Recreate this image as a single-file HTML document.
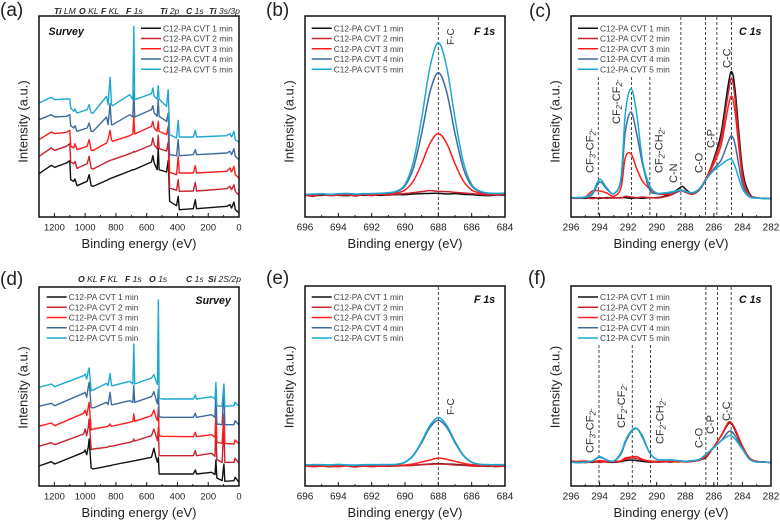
<!DOCTYPE html>
<html lang="en">
<head>
<meta charset="utf-8">
<title>XPS spectra panels</title>
<style>
html,body{margin:0;padding:0;background:#fff;}
body{width:780px;height:522px;overflow:hidden;}
svg{display:block;filter:blur(0.35px);font-family:"Liberation Sans",Arial,sans-serif;}
.plbl{font-size:19px;fill:#222;}
.ytitle,.xtitle{font-size:13px;fill:#222;}
.peak{font-size:8.6px;fill:#222;font-style:italic;}
.core{font-size:10.6px;font-weight:bold;font-style:italic;fill:#111;}
.ann{font-size:11px;fill:#333;}
.annf{font-size:10px;fill:#333;}
.sub{font-size:8px;font-style:italic;}
</style>
</head>
<body>
<svg id="chart" xmlns="http://www.w3.org/2000/svg" width="780" height="522" viewBox="0 0 780 522">
  <rect x="0" y="0" width="780" height="522" fill="#fff"/>
  <g id="marks"></g>

  <text class="plbl" x="0" y="16">(a)</text>
  <text class="plbl" x="266" y="16">(b)</text>
  <text class="plbl" x="529" y="17">(c)</text>
  <text class="plbl" x="0" y="285">(d)</text>
  <text class="plbl" x="266" y="284">(e)</text>
  <text class="plbl" x="528" y="284">(f)</text>

  <g>
    <text class="peak" x="54" y="14"><tspan font-weight="bold">Ti</tspan> LM</text>
    <text class="peak" x="79" y="14"><tspan font-weight="bold">O</tspan> KL</text>
    <text class="peak" x="101" y="14"><tspan font-weight="bold">F</tspan> KL</text>
    <text class="peak" x="126" y="14"><tspan font-weight="bold">F</tspan> 1s</text>
    <text class="peak" x="160" y="14"><tspan font-weight="bold">Ti</tspan> 2p</text>
    <text class="peak" x="186" y="14"><tspan font-weight="bold">C</tspan> 1s</text>
    <text class="peak" x="209" y="14"><tspan font-weight="bold">Ti</tspan> 3s/3p</text>
  </g>
  <g>
    <text class="peak" x="78" y="282"><tspan font-weight="bold">O</tspan> KL</text>
    <text class="peak" x="100" y="282"><tspan font-weight="bold">F</tspan> KL</text>
    <text class="peak" x="125" y="282"><tspan font-weight="bold">F</tspan> 1s</text>
    <text class="peak" x="149" y="282"><tspan font-weight="bold">O</tspan> 1s</text>
    <text class="peak" x="186" y="282"><tspan font-weight="bold">C</tspan> 1s</text>
    <text class="peak" x="208" y="282"><tspan font-weight="bold">Si</tspan> 2S/2p</text>
  </g>

  <text class="core" x="48.5" y="35">Survey</text>
  <text class="core" x="195.5" y="304">Survey</text>
  <text class="core" x="474" y="35">F 1s</text>
  <text class="core" x="474" y="303">F 1s</text>
  <text class="core" x="739" y="35">C 1s</text>
  <text class="core" x="739" y="303">C 1s</text>

  <g>
    <text class="annf" transform="translate(454,45) rotate(-90)">F-C</text>
  </g>
  <g>
    <text class="annf" transform="translate(454,415) rotate(-90)">F-C</text>
  </g>
  <g>
    <text class="ann" transform="translate(730.5,68) rotate(-90)">C-C</text>
    <text class="ann" transform="translate(714.5,148) rotate(-90)">C-P</text>
    <text class="ann" transform="translate(702.5,173) rotate(-90)">C-O</text>
    <text class="ann" transform="translate(677,183) rotate(-90)">C-N</text>
    <text class="ann" transform="translate(662.5,173) rotate(-90)">CF<tspan class="sub" dy="2">2</tspan><tspan dy="-2">-CH</tspan><tspan class="sub" dy="2">2</tspan><tspan class="sub" dy="-2">-</tspan></text>
    <text class="ann" transform="translate(620,124) rotate(-90)">CF<tspan class="sub" dy="2">2</tspan><tspan dy="-2">-CF</tspan><tspan class="sub" dy="2">2</tspan><tspan class="sub" dy="-2">-</tspan></text>
    <text class="ann" transform="translate(593.5,173) rotate(-90)">CF<tspan class="sub" dy="2">3</tspan><tspan dy="-2">-CF</tspan><tspan class="sub" dy="2">2</tspan><tspan class="sub" dy="-2">-</tspan></text>
  </g>
  <g>
    <text class="ann" transform="translate(730,421) rotate(-90)">C-C</text>
    <text class="ann" transform="translate(714,434) rotate(-90)">C-P</text>
    <text class="ann" transform="translate(702.5,448) rotate(-90)">C-O</text>
    <text class="ann" transform="translate(663.5,444) rotate(-90)">CF<tspan class="sub" dy="2">2</tspan><tspan dy="-2">-CH</tspan><tspan class="sub" dy="2">2</tspan><tspan class="sub" dy="-2">-</tspan></text>
    <text class="ann" transform="translate(625,428) rotate(-90)">CF<tspan class="sub" dy="2">2</tspan><tspan dy="-2">-CF</tspan><tspan class="sub" dy="2">2</tspan><tspan class="sub" dy="-2">-</tspan></text>
    <text class="ann" transform="translate(593.5,453) rotate(-90)">CF<tspan class="sub" dy="2">3</tspan><tspan dy="-2">-CF</tspan><tspan class="sub" dy="2">2</tspan><tspan class="sub" dy="-2">-</tspan></text>
  </g>
</svg>

<script>
// ---------- shared categories ----------
const seriesLabels = ['C12-PA CVT 1 min','C12-PA CVT 2 min','C12-PA CVT 3 min','C12-PA CVT 4 min','C12-PA CVT 5 min'];

// ---------- panel (a) survey ----------
const energyA = [1300,1220,1198,1122,1100,1094,1074,1066,1053,987,974,961,948,861,851,838,829,822,710,690,684,678,569,560,551,532,525,519,471,460,451,406,395,388,297,284,276,80,59,48,33,24,0];
const a1 = [130,155,149,162,169,112,107,114,94,107,127,94,92,110,112,115,117,118,138,142,142,143,165,184,162,142,207,142,135,170,47,34,62,22,25,52,25,32,37,27,45,22,12];
const a2 = [182,207,200,212,220,165,160,167,146,160,182,146,144,165,167,170,171,172,190,194,197,195,216,237,216,205,245,205,198,225,87,80,112,77,78,104,78,85,92,82,97,77,65];
const a3 = [232,255,250,254,260,212,207,220,202,212,232,200,200,222,234,260,232,227,244,249,302,249,272,287,267,257,287,257,247,272,134,127,182,132,132,154,132,137,147,135,152,127,117];
const a4 = [292,307,300,302,307,274,267,274,257,267,282,257,257,300,277,340,277,277,307,300,380,300,322,334,312,302,352,302,287,312,187,184,232,184,187,202,187,192,197,187,205,182,172];
const a5 = [342,359,352,354,354,327,317,324,312,322,337,312,312,362,337,419,337,334,367,352,572,352,370,387,362,354,394,354,332,382,247,237,290,240,240,260,240,244,250,240,257,232,224];

// ---------- panel (d) survey ----------
const energyD = [1300,1220,1198,1010,1000,990,980,974,961,948,861,851,838,829,822,710,690,684,678,569,553,540,530,524,519,500,297,284,276,178,156,150,144,110,98,92,33,25,0];
const d1 = [60,73,66,101,108,94,116,141,54,51,59,60,61,62,63,73,75,75,76,86,113,86,71,86,36,36,36,48,36,41,34,78,24,16,66,14,16,26,11];
const d2 = [119,130,124,156,171,151,176,201,109,111,116,117,120,119,120,131,134,141,135,151,171,151,136,176,91,91,91,106,91,98,89,186,79,71,176,71,71,83,68];
const d3 = [179,189,181,218,228,211,236,251,168,171,178,179,186,179,180,191,194,216,194,211,228,206,196,236,151,149,148,161,148,154,146,226,131,128,216,128,126,138,126];
const d4 = [239,248,241,278,281,266,296,311,236,234,251,244,281,244,244,256,251,301,251,268,283,261,246,291,208,206,206,218,206,214,206,296,186,184,296,184,184,196,183];
const d5 = [296,306,298,331,336,321,346,354,286,288,308,301,338,301,301,314,306,426,306,324,334,316,304,558,263,261,261,273,261,268,261,311,241,239,306,239,241,251,239];

// ---------- panels (b), (e) F 1s ----------
const energyF1s = [696,695.5,695,694.5,694,693.5,693,692.5,692,691.5,691,690.5,690,689.5,689,688.5,688,687.5,687,686.5,686,685.5,685,684.5,684];
const b1 = [66,64,65,67,65,64,66,65,66,65,66,67,67,69,70,71,71,69,70,68,67,65,64,66,65];
const b2 = [66,62,68,64,66,69,63,67,64,68,66,69,70,73,76,79,77,76,74,72,70,68,66,68,66];
const b3 = [65,66,67,65,66,66,66,67,67,68,69,72,81,108,160,221,250,221,160,108,81,72,68,67,68];
const b4 = [67,68,69,67,69,70,68,69,70,71,72,76,93,146,251,375,433,375,251,146,93,76,71,70,71];
const b5 = [68,69,70,68,70,71,69,70,70,71,73,78,98,165,296,450,523,450,296,165,98,78,72,71,72];
const e1 = [61,59,60,58,60,61,59,60,61,60,60,61,62,62,64,66,67,66,65,63,61,60,59,60,59];
const e2 = [60,58,60,59,58,60,57,60,58,60,59,60,61,62,64,65,66,65,63,62,60,59,60,58,60];
const e3 = [60,60,59,60,60,61,60,60,60,60,61,62,63,66,72,78,84,80,74,68,64,62,61,60,60];
const e4 = [63,64,63,63,64,63,62,63,63,64,64,65,71,91,130,176,197,176,130,91,71,65,64,63,63];
const e5 = [63,64,64,63,65,63,63,64,64,64,64,65,72,93,134,182,205,182,134,93,72,65,64,64,64];

// ---------- panels (c), (f) C 1s ----------
const energyC1s = [296,295.5,295,294.5,294,293.5,293,292.5,292.2,291.8,291.4,291,290.5,290,289.5,289,288.5,288.2,288,287.5,287,286.5,286,285.5,285,284.75,284.5,284,283.5,283,282.5,282];
const c1 = [58,57,56,58,56,58,57,58,58,56,57,56,58,58,62,70,84,92,84,70,82,118,175,250,395,436,375,145,70,58,56,55];
const c2 = [57,56,58,55,58,56,58,57,62,60,58,60,58,57,60,66,76,80,76,68,84,120,170,235,370,415,350,130,66,58,56,55];
const c3 = [57,58,60,78,78,72,62,88,178,190,145,108,85,70,68,70,78,78,74,70,85,118,160,215,330,362,310,120,66,58,56,55];
const c4 = [58,58,59,68,105,84,70,110,255,315,250,160,82,70,72,72,78,80,76,72,85,115,145,170,225,243,215,100,62,57,56,55];
const c5 = [58,58,60,72,113,88,70,118,310,385,310,170,95,72,72,75,80,80,77,73,85,115,140,157,172,172,150,85,60,57,55,55];
const f1 = [72,70,72,71,74,72,71,73,76,78,76,74,72,72,73,72,74,74,73,74,78,88,118,150,186,186,165,118,82,72,72,70];
const f2 = [73,72,70,73,71,73,72,74,80,84,82,78,74,72,72,74,72,73,72,74,78,90,118,150,190,188,168,120,84,74,72,71];
const f3 = [75,74,75,73,76,74,74,76,84,87,88,80,75,74,73,74,73,74,74,75,79,92,118,150,190,188,170,120,82,74,72,71];
const f4 = [72,71,72,75,86,78,75,96,130,162,172,150,100,80,78,78,76,75,74,76,80,97,116,136,162,163,150,112,80,72,72,70];
const f5 = [72,70,72,75,88,78,75,100,135,165,173,145,100,80,78,78,76,75,74,76,80,97,115,135,150,150,140,110,80,72,72,70];

// ---------- axis tick labels ----------
const surveyTicks = [1200,1000,800,600,400,200,0];
const surveyMinor = [1300,1100,900,700,500,300,100];
const f1sTicks = [696,694,692,690,688,686,684];
const f1sMinor = [695,693,691,689,687,685];
const c1sTicks = [296,294,292,290,288,286,284,282];
const c1sMinor = [295,293,291,289,287,285,283];

// ---------- reference line energies ----------
const refB = [688];
const refE = [688];
const refC = [294.09,291.76,290.48,288.31,286.58,285.79,284.76];
const refF = [294.04,291.71,290.43,286.56,285.74,284.79];

const colors = ['#111111','#c9222e','#ff1c1c','#3e6b9e','#1da9cf'];
const NS = 'http://www.w3.org/2000/svg';
const root = document.getElementById('marks');

const panels = [
 {id:'a',left:39,top:16,w:200,h:201,xHi:1300,xLo:0,smooth:false,energy:energyA,series:[a1,a2,a3,a4,a5],ticks:surveyTicks,minor:surveyMinor,refs:[],refTop:[],legX:141,legY:28.3,legStep:10.25,tickFont:9.4,titleY:248,ytitleX:27.5},
 {id:'b',left:305,top:16,w:200,h:201,xHi:696,xLo:684,smooth:true,energy:energyF1s,series:[b1,b2,b3,b4,b5],ticks:f1sTicks,minor:f1sMinor,refs:refB,refTop:[17],legX:311.7,legY:28.3,legStep:10.25,tickFont:10,titleY:248,ytitleX:293.7},
 {id:'c',left:571,top:16,w:200,h:201,xHi:296,xLo:282,smooth:true,energy:energyC1s,series:[c1,c2,c3,c4,c5],ticks:c1sTicks,minor:c1sMinor,refs:refC,refTop:[77,77,77,17,17,17,17],legX:578,legY:28.3,legStep:10.25,tickFont:10,titleY:248,ytitleX:559.3},
 {id:'d',left:39,top:287,w:200,h:199,xHi:1300,xLo:0,smooth:false,energy:energyD,series:[d1,d2,d3,d4,d5],ticks:surveyTicks,minor:surveyMinor,refs:[],refTop:[],legX:46.7,legY:297,legStep:10.25,tickFont:9.4,titleY:517,ytitleX:27.5},
 {id:'e',left:305,top:286,w:200,h:200,xHi:696,xLo:684,smooth:true,energy:energyF1s,series:[e1,e2,e3,e4,e5],ticks:f1sTicks,minor:f1sMinor,refs:refE,refTop:[287],legX:311.7,legY:297,legStep:10.25,tickFont:10,titleY:517,ytitleX:293.7},
 {id:'f',left:571,top:286,w:200,h:200,xHi:296,xLo:282,smooth:true,energy:energyC1s,series:[f1,f2,f3,f4,f5],ticks:c1sTicks,minor:c1sMinor,refs:refF,refTop:[345,345,345,287,287,287],legX:578,legY:297,legStep:10.25,tickFont:10,titleY:517,ytitleX:559.3}
];

function xScale(p,e){return p.left+(p.xHi-e)/(p.xHi-p.xLo)*p.w;}
function yScale(p,v){return p.top+p.h-v/(p.h*3)*p.h;}

function make(tag,attrs,parent){
  const el=document.createElementNS(NS,tag);
  for(const k in attrs){el.setAttribute(k,attrs[k]);}
  parent.appendChild(el);
  return el;
}

function buildPath(p,vals){
  const pts=vals.map(function(v,j){return [xScale(p,p.energy[j]),yScale(p,v)];});
  if(!p.smooth){
    return pts.map(function(q,j){return (j?'L':'M')+q[0].toFixed(2)+' '+q[1].toFixed(2);}).join('');
  }
  let d='M'+pts[0][0].toFixed(2)+' '+pts[0][1].toFixed(2);
  for(let i=0;i<pts.length-1;i++){
    const a=pts[Math.max(i-1,0)],b=pts[i],c=pts[i+1],e=pts[Math.min(i+2,pts.length-1)];
    const c1x=b[0]+(c[0]-a[0])/6,c1y=b[1]+(c[1]-a[1])/6;
    const c2x=c[0]-(e[0]-b[0])/6,c2y=c[1]-(e[1]-b[1])/6;
    d+='C'+c1x.toFixed(2)+' '+c1y.toFixed(2)+' '+c2x.toFixed(2)+' '+c2y.toFixed(2)+' '+c[0].toFixed(2)+' '+c[1].toFixed(2);
  }
  return d;
}

panels.forEach(function(p){
  const g=make('g',{},root);
  
  

  p.refs.forEach(function(e,i){
    const l=make('line',{x1:xScale(p,e),x2:xScale(p,e),y1:p.refTop[i],y2:p.top+p.h,stroke:'#333','stroke-width':0.9,'stroke-dasharray':'3 2'},g);
    
    
  });

  p.series.forEach(function(vals,i){
    const path=make('path',{d:buildPath(p,vals),fill:'none',stroke:colors[i],'stroke-width':p.smooth?1.5:1.4,'stroke-linejoin':'round'},g);
    
    
  });

  const frame=make('rect',{x:p.left,y:p.top,width:p.w,height:p.h,fill:'none',stroke:'#111','stroke-width':1.5},g);
  
  

  p.ticks.forEach(function(t){
    const x=xScale(p,t),b=p.top+p.h;
    const tick=make('line',{x1:x,x2:x,y1:b,y2:b-4,stroke:'#111','stroke-width':1},g);
    
    
    const lab=make('text',{x:x,y:b+13.5,'text-anchor':'middle','font-size':p.tickFont,fill:'#222'},g);
    
    
    lab.textContent=t;
  });
  p.minor.forEach(function(t){
    const x=xScale(p,t),b=p.top+p.h;
    const tick=make('line',{x1:x,x2:x,y1:b,y2:b-2,stroke:'#111','stroke-width':0.9},g);
    
    
  });

  const xt=make('text',{x:p.left+p.w/2,y:p.titleY,'text-anchor':'middle','class':'xtitle'},g);
  
  
  xt.textContent='Binding energy (eV)';

  const cy=p.top+p.h/2+(p.top>100?1:5);
  const yt=make('text',{transform:'translate('+p.ytitleX+','+cy+') rotate(-90)','text-anchor':'middle','class':'ytitle'},g);
  
  
  yt.textContent='Intensity (a.u.)';

  seriesLabels.forEach(function(label,i){
    const y=p.legY+i*p.legStep;
    const s=make('line',{x1:p.legX,x2:p.legX+20,y1:y,y2:y,stroke:colors[i],'stroke-width':1.5},g);
    
    
    const t=make('text',{x:p.legX+22,y:y+3,'font-size':8.35,fill:'#444'},g);
    
    
    t.textContent=label;
  });
});
</script>
</body>
</html>
